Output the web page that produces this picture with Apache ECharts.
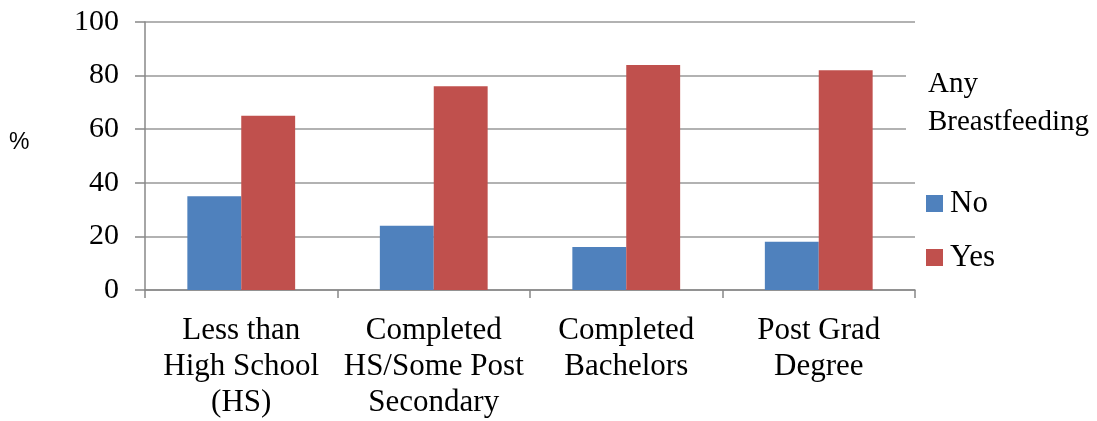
<!DOCTYPE html>
<html>
<head>
<meta charset="utf-8">
<script src="https://cdn.jsdelivr.net/npm/echarts@6/dist/echarts.min.js"></script>
<style>html,body{margin:0;padding:0;background:#fff}#c{width:1097px;height:421px}</style>
</head>
<body>
<div id="c"></div>
<script>
var categories = ['Less than\nHigh School\n(HS)', 'Completed\nHS/Some Post\nSecondary', 'Completed\nBachelors', 'Post Grad\nDegree'];
var noValues = [35, 24, 16, 18];
var yesValues = [65, 76, 84, 82];
var legendTitle = 'Any\nBreastfeeding';
var yAxisName = '%';

var serif = 'Liberation Serif';
var chart = echarts.init(document.getElementById('c'));
chart.setOption({
  animation: false,
  backgroundColor: '#fff',
  title: {
    text: legendTitle,
    left: 923, top: 60, padding: 5,
    textStyle: { fontFamily: serif, fontSize: 29, fontWeight: 'normal', color: '#000', lineHeight: 38 }
  },
  legend: {
    orient: 'vertical',
    left: 926, top: 188, padding: 0,
    itemWidth: 17, itemHeight: 17, itemGap: 23,
    icon: 'rect',
    textStyle: { fontFamily: serif, fontSize: 31, color: '#000', padding: [0, 0, 0, 2] },
    data: ['No', 'Yes']
  },
  graphic: [
    { type: 'text', left: 9, top: 131, style: { text: yAxisName, font: '23px "Liberation Sans"', fill: '#000' } },
    { type: 'rect', shape: { x: 906, y: 60, width: 20, height: 90 }, style: { fill: '#fff' }, z: 100 }
  ],
  grid: { left: 145, right: 182, top: 22, bottom: 131 },
  xAxis: {
    type: 'category',
    data: categories,
    axisLine: { lineStyle: { color: '#888', width: 1.5 } },
    axisTick: { show: true, length: 8, lineStyle: { color: '#888', width: 1.5 } },
    axisLabel: { fontFamily: serif, fontSize: 31, color: '#000', lineHeight: 36, margin: 23, interval: 0 }
  },
  yAxis: {
    type: 'value',
    min: 0, max: 100, interval: 20,
    axisLine: { show: true, lineStyle: { color: '#888', width: 1.5 } },
    axisTick: { show: true, length: 10, lineStyle: { color: '#888', width: 1.5 } },
    splitLine: { lineStyle: { color: '#999', width: 1.5 } },
    axisLabel: { fontFamily: serif, fontSize: 30, color: '#000', margin: 26 }
  },
  series: [
    { name: 'No', type: 'bar', data: noValues, barGap: '0%', barCategoryGap: '44%', itemStyle: { color: '#4F81BD' } },
    { name: 'Yes', type: 'bar', data: yesValues, barGap: '0%', barCategoryGap: '44%', itemStyle: { color: '#C0504D' } }
  ]
});
</script>
</body>
</html>
